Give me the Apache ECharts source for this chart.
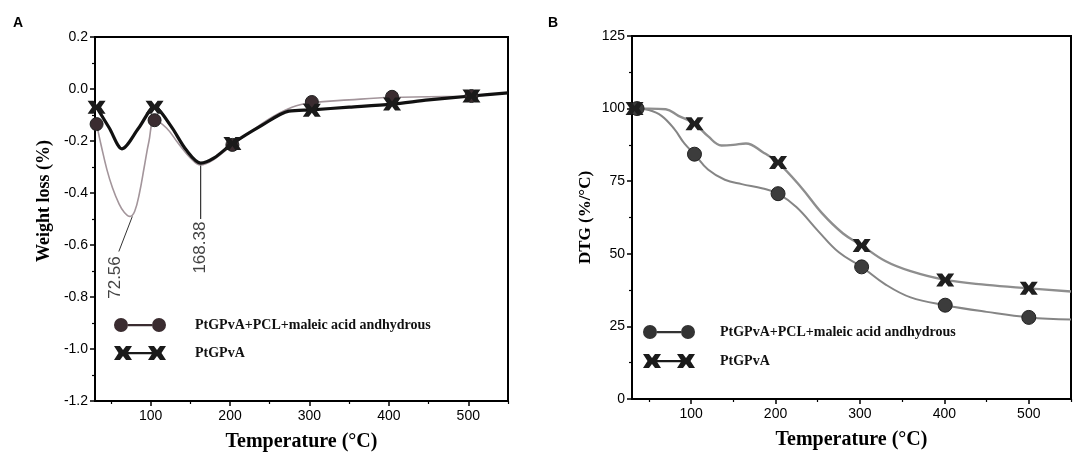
<!DOCTYPE html>
<html>
<head>
<meta charset="utf-8">
<script src="https://cdn.jsdelivr.net/npm/echarts@6/dist/echarts.min.js"></script>
<style>
  html, body { margin: 0; padding: 0; background: #fff; }
  #chart { width: 1084px; height: 464px; }
</style>
</head>
<body>
<div id="chart"></div>
<script>
// axis ticks
var tempLabels = [100, 200, 300, 400, 500];
var tempMinor = [50, 150, 250, 350, 450, 550];
var seriesNames = ['PtGPvA+PCL+maleic acid andhydrous', 'PtGPvA'];

// A : weight loss (%) vs temperature
var aPclCurve = [[32,-0.135],[38,-0.22],[45,-0.31],[52,-0.38],[60,-0.44],[67,-0.475],[74,-0.49],[80,-0.47],[86,-0.4],[92,-0.3],[98,-0.2],[105,-0.12],
  [120,-0.15],[135,-0.21],[150,-0.265],[163,-0.292],[180,-0.27],[203,-0.215],[230,-0.155],[255,-0.105],[278,-0.07],[303,-0.053],[350,-0.042],[404,-0.032],[450,-0.03],[504,-0.027],[550,-0.015]];
var aPclMarks = [[32,-0.135],[105,-0.12],[203,-0.215],[303,-0.05],[404,-0.03],[504,-0.027]];
var aPvaCurve = [[32,-0.07],[48,-0.15],[64,-0.23],[85,-0.15],[105,-0.07],[125,-0.14],[145,-0.235],[163,-0.285],[180,-0.265],[203,-0.21],[240,-0.14],[274,-0.085],
  [303,-0.08],[350,-0.07],[404,-0.058],[450,-0.042],[504,-0.027],[550,-0.015]];
var aPvaMarks = [[32,-0.07],[105,-0.07],[203,-0.21],[303,-0.082],[404,-0.058],[504,-0.027]];
// peak annotations
var aPeakText = ['72.56', '168.38'];
var aPeakLeaders = [[[77,-0.49],[60,-0.625]], [[163,-0.29],[163,-0.5]]];
var aPeakLabelAt = [[56,-0.725],[163,-0.61]];

// B : DTG (%/°C) vs temperature
var bPclCurve = [[36,100],[50,99.5],[65,97.5],[80,93],[92,88],[104,84.3],[120,79],[140,75.5],[160,74],[185,72.5],[203,70.7],[225,66],[250,58],[275,50.5],[302,45.5],
  [330,39.5],[360,35],[401,32.3],[450,30],[500,28.1],[550,27.4]];
var bPclMarks = [[36,100],[104,84.3],[203,70.7],[302,45.5],[401,32.3],[500,28.1]];
var bPvaCurve = [[33,100],[50,100],[70,99.8],[85,97.5],[104,94.8],[120,90.5],[136,87.3],[150,87.5],[165,88],[185,85],[203,81.4],[230,73],[255,64],[280,57],[302,52.9],
  [330,47.5],[360,44],[401,41],[450,39.3],[500,38.1],[550,37]];
var bPvaMarks = [[33,100],[104,94.8],[203,81.4],[302,52.9],[401,41],[500,38.1]];

var crossPath = 'path://M0,0L6,0L9,4L12,0L18,0L13.5,6.5L18,13L12,13L9,9L6,13L0,13L4.5,6.5Z';
var circleIcon = 'path://M0,7a7,7 0 1,1 14,0a7,7 0 1,1 -14,0z M14,6h24v2.2h-24z M38,7a7,7 0 1,1 14,0a7,7 0 1,1 -14,0z';
var crossIcon = 'path://M0,0L6,0L9,4L12,0L18,0L13.5,7L18,14L12,14L9,10L6,14L0,14L4.5,7Z M13,6h26v2.2h-26z M34,0L40,0L43,4L46,0L52,0L47.5,7L52,14L46,14L43,10L40,14L34,14L38.5,7Z';

var serif = 'Liberation Serif';
var sans = 'Liberation Sans';

function tempAxis(g) {
  return {
    type: 'value', gridIndex: g, min: 30, max: 550, position: 'bottom',
    axisLine: { onZero: false, lineStyle: { color: '#000', width: 2 } },
    axisTick: { customValues: tempLabels, length: 5, lineStyle: { color: '#000', width: 1.5 } },
    axisLabel: { customValues: tempLabels, color: '#000', fontSize: 14, margin: 8, fontFamily: sans },
    splitLine: { show: false },
    name: 'Temperature (°C)', nameLocation: 'middle', nameGap: 31,
    nameTextStyle: { fontFamily: serif, fontWeight: 'bold', fontSize: 20, color: '#000' }
  };
}
function minorAxis(g) {
  return {
    type: 'value', gridIndex: g, min: 30, max: 550, position: 'bottom',
    axisLine: { show: false, onZero: false },
    axisTick: { customValues: tempMinor, length: 3, lineStyle: { color: '#000', width: 1.2 } },
    axisLabel: { show: false }, splitLine: { show: false }
  };
}

var option = {
  backgroundColor: '#fff',
  animation: false,
  title: [
    { text: 'A', left: 8, top: 11, textStyle: { fontFamily: sans, fontWeight: 'bold', fontSize: 14, color: '#000' } },
    { text: 'B', left: 543, top: 11, textStyle: { fontFamily: sans, fontWeight: 'bold', fontSize: 14, color: '#000' } }
  ],
  grid: [
    { left: 95, right: 576, top: 37, bottom: 63, show: true, borderColor: '#000', borderWidth: 2 },
    { left: 632, right: 13, top: 36, bottom: 65, show: true, borderColor: '#000', borderWidth: 2 }
  ],
  legend: [
    { orient: 'vertical', left: 114, top: 318, padding: 0, itemGap: 14, itemWidth: 52, itemHeight: 14,
      data: [{ name: seriesNames[0], icon: circleIcon, itemStyle: { color: '#3a2c30' } }, { name: seriesNames[1], icon: crossIcon, itemStyle: { color: '#1a1a1a' } }],
      textStyle: { fontFamily: serif, fontWeight: 'bold', fontSize: 14, color: '#111', padding: [0, 0, 0, 24] } },
    { orient: 'vertical', left: 643, top: 325, padding: 0, itemGap: 15, itemWidth: 52, itemHeight: 14,
      data: [{ name: seriesNames[0], icon: circleIcon, itemStyle: { color: '#333' } }, { name: seriesNames[1], icon: crossIcon, itemStyle: { color: '#1a1a1a' } }],
      textStyle: { fontFamily: serif, fontWeight: 'bold', fontSize: 14, color: '#111', padding: [0, 0, 0, 20] } }
  ],
  xAxis: [tempAxis(0), tempAxis(1), minorAxis(0), minorAxis(1)],
  yAxis: [
    { type: 'value', gridIndex: 0, min: -1.2, max: 0.2, interval: 0.2,
      axisLine: { lineStyle: { color: '#000', width: 2 } },
      axisTick: { length: 5, lineStyle: { color: '#000', width: 1.5 } },
      minorTick: { show: true, splitNumber: 2, length: 3, lineStyle: { color: '#000', width: 1.2 } },
      axisLabel: { color: '#000', fontSize: 14, margin: 7, fontFamily: sans, formatter: function (v) { return v.toFixed(1); } },
      splitLine: { show: false },
      name: 'Weight loss (%)', nameLocation: 'middle', nameGap: 42,
      nameTextStyle: { fontFamily: serif, fontWeight: 'bold', fontSize: 18, color: '#000', padding: [0, 0, 0, 36] } },
    { type: 'value', gridIndex: 1, min: 0, max: 125, interval: 25,
      axisLine: { lineStyle: { color: '#000', width: 2 } },
      axisTick: { length: 5, lineStyle: { color: '#000', width: 1.5 } },
      minorTick: { show: true, splitNumber: 2, length: 3, lineStyle: { color: '#000', width: 1.2 } },
      axisLabel: { color: '#000', fontSize: 14, margin: 7, fontFamily: sans },
      splitLine: { show: false },
      name: 'DTG (%/°C)', nameLocation: 'middle', nameGap: 38,
      nameTextStyle: { fontFamily: serif, fontWeight: 'bold', fontSize: 17, color: '#000' } }
  ],
  series: [
    // panel A
    { name: seriesNames[0], type: 'line', xAxisIndex: 0, yAxisIndex: 0, data: aPclCurve, smooth: 0.4, showSymbol: false,
      lineStyle: { color: '#a3959b', width: 1.6 }, itemStyle: { color: '#3a2c30' }, z: 2 },
    { name: seriesNames[1], type: 'line', xAxisIndex: 0, yAxisIndex: 0, data: aPvaCurve, smooth: 0.3, showSymbol: false,
      lineStyle: { color: '#111', width: 3.2 }, itemStyle: { color: '#1a1a1a' }, z: 3 },
    { name: seriesNames[0], type: 'scatter', xAxisIndex: 0, yAxisIndex: 0, data: aPclMarks, symbol: 'circle', symbolSize: 13,
      itemStyle: { color: '#3a2c30', borderColor: '#222', borderWidth: 1, opacity: 1 }, z: 4 },
    { name: seriesNames[1], type: 'scatter', xAxisIndex: 0, yAxisIndex: 0, data: aPvaMarks, symbol: crossPath, symbolSize: [18, 13],
      itemStyle: { color: '#1a1a1a', opacity: 1 }, z: 5 },
    { type: 'line', xAxisIndex: 0, yAxisIndex: 0, data: aPeakLeaders[0], showSymbol: false, silent: true,
      lineStyle: { color: '#333', width: 1 }, z: 1 },
    { type: 'line', xAxisIndex: 0, yAxisIndex: 0, data: aPeakLeaders[1], showSymbol: false, silent: true,
      lineStyle: { color: '#333', width: 1.2 }, z: 1 },
    { type: 'scatter', xAxisIndex: 0, yAxisIndex: 0, symbolSize: 0, silent: true,
      data: aPeakLabelAt.map(function (p, i) { return [p[0], p[1], aPeakText[i]]; }),
      label: { show: true, position: 'inside', rotate: 90, fontFamily: sans, fontSize: 17, color: '#111',
        formatter: function (p) { return p.value[2]; } } },
    // panel B
    { name: seriesNames[0], type: 'line', xAxisIndex: 1, yAxisIndex: 1, data: bPclCurve, smooth: 0.4, showSymbol: false,
      lineStyle: { color: '#858585', width: 2 }, itemStyle: { color: '#333' }, z: 2 },
    { name: seriesNames[1], type: 'line', xAxisIndex: 1, yAxisIndex: 1, data: bPvaCurve, smooth: 0.4, showSymbol: false,
      lineStyle: { color: '#8e8e8e', width: 2.4 }, itemStyle: { color: '#1a1a1a' }, z: 2 },
    { name: seriesNames[0], type: 'scatter', xAxisIndex: 1, yAxisIndex: 1, data: bPclMarks, symbol: 'circle', symbolSize: 14,
      itemStyle: { color: '#3c3c3c', borderColor: '#222', borderWidth: 1, opacity: 1 }, z: 4 },
    { name: seriesNames[1], type: 'scatter', xAxisIndex: 1, yAxisIndex: 1, data: bPvaMarks, symbol: crossPath, symbolSize: [18, 13],
      itemStyle: { color: '#1f1f1f', opacity: 1 }, z: 5 }
  ]
};

var myChart = echarts.init(document.getElementById('chart'));
myChart.setOption(option);
</script>
</body>
</html>
